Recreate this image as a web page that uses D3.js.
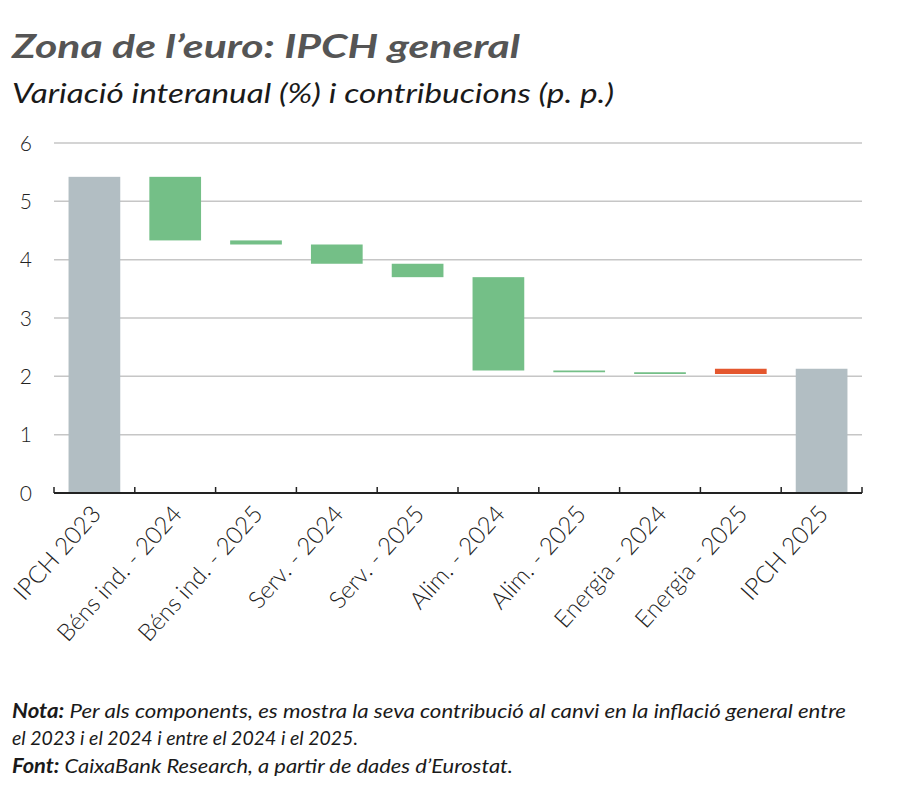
<!DOCTYPE html>
<html>
<head>
<meta charset="utf-8">
<script src="https://cdn.jsdelivr.net/npm/d3@7"></script>
<style>
  body { margin: 0; background: #fff; }
  svg { display: block; font-family: Lato, "Open Sans", sans-serif; }
</style>
</head>
<body>
<svg id="chart" width="900" height="788"></svg>
<script>
// --- data ---
const categories = ["IPCH 2023", "Béns ind. - 2024", "Béns ind. - 2025", "Serv. - 2024", "Serv. - 2025",
                    "Alim. - 2024", "Alim. - 2025", "Energia - 2024", "Energia - 2025", "IPCH 2025"];
// first and last are totals (%), the rest are contributions (p. p.)
const values = [5.42, -1.09, -0.07, -0.33, -0.23, -1.60, -0.03, -0.03, 0.09, 2.13];
const isTotal = [true, false, false, false, false, false, false, false, false, true];
const yTicks = [0, 1, 2, 3, 4, 5, 6];

const colors = {total: "#b2bec3", down: "#74bf87", up: "#e4572e"};

const margin = {top: 143, right: 38, bottom: 295, left: 54},
      width = 900 - margin.left - margin.right,
      height = 788 - margin.top - margin.bottom;

const svg = d3.select("#chart");
const g = svg.append("g").attr("transform", `translate(${margin.left},${margin.top})`);

// build the waterfall steps
let running = 0;
const steps = categories.map((c, i) => {
    let y0, y1;
    if (isTotal[i]) { y0 = 0; y1 = values[i]; running = values[i]; }
    else { y0 = running; y1 = running + values[i]; running = y1; }
    return {cat: c, lo: Math.min(y0, y1), hi: Math.max(y0, y1), total: isTotal[i], v: values[i]};
});

const x = d3.scaleBand().domain(categories).range([0, width]).paddingInner(0.36).paddingOuter(0.18);
const y = d3.scaleLinear().domain([0, 6]).range([height, 0]);

// gridlines
g.append("g").selectAll("line")
    .data(yTicks.filter(d => d > 0))
    .join("line")
    .attr("x1", 0).attr("x2", width)
    .attr("y1", d => y(d)).attr("y2", d => y(d))
    .attr("stroke", "#c6c6c6").attr("stroke-width", 1.5);

// y labels
g.append("g").selectAll("text")
    .data(yTicks)
    .join("text")
    .attr("x", -22).attr("y", d => y(d))
    .attr("dy", "0.36em")
    .attr("text-anchor", "end")
    .attr("font-size", 21).attr("font-weight", 300).attr("fill", "#222")
    .text(d => d);

// bars
g.append("g").selectAll("rect")
    .data(steps)
    .join("rect")
    .attr("x", d => x(d.cat))
    .attr("width", x.bandwidth())
    .attr("y", d => y(d.hi))
    .attr("height", d => Math.max(1.5, y(d.lo) - y(d.hi)))
    .attr("fill", d => d.total ? colors.total : (d.v < 0 ? colors.down : colors.up));

// x axis: baseline with upward ticks at band edges
const edges = d3.range(categories.length + 1).map(i => i * width / categories.length);
const xa = g.append("g").attr("transform", `translate(0,${height})`);
xa.append("line").attr("x1", 0).attr("x2", width).attr("stroke", "#222").attr("stroke-width", 1.8);
xa.selectAll(".tick").data(edges).join("line")
    .attr("class", "tick")
    .attr("x1", d => d).attr("x2", d => d)
    .attr("y1", 0).attr("y2", -6)
    .attr("stroke", "#222").attr("stroke-width", 1.5);

xa.selectAll(".xlab").data(categories).join("text")
    .attr("class", "xlab")
    .attr("text-anchor", "end")
    .attr("font-size", 24).attr("font-weight", 300).attr("fill", "#222")
    .attr("transform", d => `translate(${x(d) + x.bandwidth() / 2 + 8},${22}) rotate(-48)`)
    .text(d => d);

// titles
svg.append("text").attr("x", 12).attr("y", 58)
    .attr("font-size", 33).attr("font-weight", "bold").attr("font-style", "italic")
    .attr("fill", "#555").attr("textLength", 508).attr("lengthAdjust", "spacingAndGlyphs")
    .text("Zona de l’euro: IPCH general");
svg.append("text").attr("x", 12).attr("y", 103)
    .attr("font-size", 27).attr("font-style", "italic")
    .attr("fill", "#1a1a1a").attr("textLength", 602).attr("lengthAdjust", "spacingAndGlyphs")
    .text("Variació interanual (%) i contribucions (p. p.)");

// notes
const notes = [
    {b: "Nota:", t: " Per als components, es mostra la seva contribució al canvi en la inflació general entre", y: 718, w: 846},
    {b: "", t: "el 2023 i el 2024 i entre el 2024 i el 2025.", y: 745, w: 358},
    {b: "Font:", t: " CaixaBank Research, a partir de dades d’Eurostat.", y: 773, w: 513}
];
notes.forEach(n => {
    const t = svg.append("text").attr("x", 12).attr("y", n.y)
        .attr("font-size", 20).attr("font-style", "italic").attr("fill", "#1a1a1a")
        .attr("textLength", n.w - 12).attr("lengthAdjust", "spacingAndGlyphs");
    if (n.b) t.append("tspan").attr("font-weight", "bold").text(n.b);
    t.append("tspan").text(n.t);
});
</script>
</body>
</html>
